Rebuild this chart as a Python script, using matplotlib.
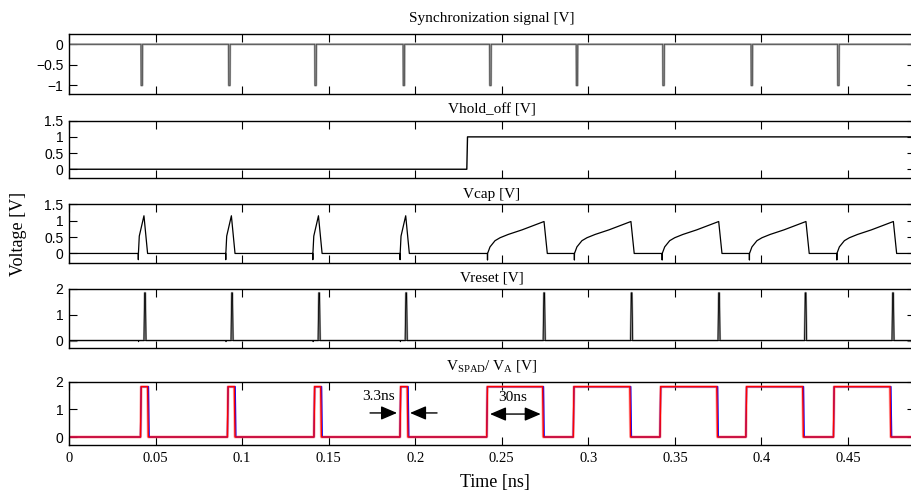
import numpy as np
import matplotlib
matplotlib.use('Agg')
import matplotlib.pyplot as plt
from matplotlib.ticker import FuncFormatter, MultipleLocator

plt.rcParams['font.family'] = 'Liberation Serif'
plt.rcParams['mathtext.fontset'] = 'custom'
plt.rcParams['mathtext.rm'] = 'Liberation Serif'
plt.rcParams['mathtext.it'] = 'Liberation Serif:italic'

########################### data ###########################
t_end = 0.4887

# synchronization dips to -1 V
sync_t = [0.0416, 0.0922, 0.1420, 0.1930, 0.2430, 0.2930, 0.3430, 0.3940, 0.4440]
sync_low = -1.0
sync_width = 0.0008

# hold-off step
hold_t = [0.0, 0.2298, 0.2302, t_end]
hold_v = [0.0, 0.0, 1.0, 1.0]

# Vcap pulse shapes (offset from start, value)
vcap_early_start = [0.0400, 0.0905, 0.1408, 0.1912]
vcap_early_dt = [0.0, 0.00005, 0.0001, 0.0006, 0.0033, 0.0054]
vcap_early_v = [0.0, -0.19, 0.0, 0.53, 1.15, 0.0]
vcap_late_start = [0.2417, 0.2919, 0.3426, 0.3930, 0.4435]
vcap_late_dt = [0.0, 0.00005, 0.0001, 0.0015, 0.0044, 0.0073, 0.0120, 0.0200, 0.0327, 0.0346]
vcap_late_v = [0.0, -0.2, 0.0, 0.20, 0.39, 0.48, 0.58, 0.72, 0.975, 0.0]

# Vreset spikes
reset_t = [0.0439, 0.0942, 0.1445, 0.1948, 0.2745, 0.3250, 0.3755, 0.4255, 0.4760]
reset_peak = 1.85
reset_blip_t = [0.0400, 0.0905, 0.1408, 0.1912]

# VSPAD / VA square pulses
spad_rise = [0.0413, 0.0915, 0.1415, 0.1912, 0.2413, 0.2913, 0.3414, 0.3910, 0.4416]
spad_fall = [0.0454, 0.0955, 0.1454, 0.1954, 0.2736, 0.3240, 0.3742, 0.4238, 0.4743]
spad_high = 1.82
va_delay = 0.0005

titles = ['Synchronization signal [V]', 'Vhold_off [V]', 'Vcap [V]', 'Vreset [V]',
          r'V$_{\mathrm{SPAD}}$/ V$_{\mathrm{A}}$ [V]']
ylims = [(-1.2, 0.25), (-0.28, 1.5), (-0.3, 1.5), (-0.3, 2.0), (-0.3, 2.0)]
yticks = [[-1, -0.5, 0], [0, 0.5, 1, 1.5], [0, 0.5, 1, 1.5], [0, 1, 2], [0, 1, 2]]
title_pads = [8.5, 5.5, 4.5, 5.5, 9.0]

########################### helpers ###########################
def pulse_train(starts, dts, vals, t0=0.0, t1=t_end, base=0.0):
    t = [t0]
    v = [base]
    for s in starts:
        t += [s + d for d in dts]
        v += list(vals)
    t.append(t1)
    v.append(base)
    return np.array(t), np.array(v)


def square(rises, falls, high, ramp=0.0004, t0=0.0, t1=t_end):
    t = [t0]
    v = [0.0]
    for r, f in zip(rises, falls):
        t += [r, r + ramp, f, f + ramp]
        v += [0.0, high, high, 0.0]
    t.append(t1)
    v.append(0.0)
    return np.array(t), np.array(v)


fmt = FuncFormatter(lambda x, p: ('%g' % x).replace('-', '\u2212'))

########################### figure ###########################
fig = plt.figure(figsize=(9.12, 4.91), dpi=100)
tops = [34, 120.7, 204.3, 289, 381.7]
bots = [93.7, 178.3, 263.3, 348.3, 445.3]
axes = []
for i in range(5):
    ax = fig.add_axes([69 / 912, 1 - bots[i] / 491, 846 / 912, (bots[i] - tops[i]) / 491])
    axes.append(ax)

# sync
ts, vs = pulse_train(sync_t, [0, 0.0001, sync_width, sync_width + 0.0001],
                     [0, sync_low, sync_low, 0])
axes[0].plot(ts, vs, color='#9a9a9a', lw=1.5)
axes[0].plot(ts, vs, color='#444444', lw=0.5)

# hold off
axes[1].plot(hold_t, hold_v, color='k', lw=1.0)

# vcap
te, ve = pulse_train(vcap_early_start, vcap_early_dt, vcap_early_v, t1=0.2417)
tl, vl = pulse_train(vcap_late_start, vcap_late_dt, vcap_late_v, t0=0.2417)
axes[2].plot(np.concatenate([te, tl]), np.concatenate([ve, vl]), color='k', lw=0.9)

# vreset
tr, vr = pulse_train(reset_t, [-0.0006, -0.0002, 0.0002, 0.0006], [0, reset_peak, reset_peak, 0])
axes[3].plot(tr, vr, color='#a0a0a0', lw=1.5)
axes[3].plot(tr, vr, color='k', lw=0.6)
tb, vb = pulse_train(reset_blip_t, [0, 0.0002, 0.0004], [0, -0.05, 0])
axes[3].plot(tb, vb, color='k', lw=0.6)

# vspad / va
tsp, vsp = square(spad_rise, spad_fall, spad_high)
tva, vva = square(spad_rise, [f + va_delay for f in spad_fall], spad_high)
axes[4].plot(tsp, vsp, color='#ff8080', lw=2.2, alpha=0.6)
axes[4].plot(tva, vva, color='#1010ff', lw=1.0)
axes[4].plot(tsp, vsp, color='#ff0000', lw=1.0)

head = '-|>,head_length=0.7,head_width=0.3'
axes[4].annotate('', xy=(0.1895, 0.87), xytext=(0.1739, 0.87),
                 arrowprops=dict(arrowstyle=head, color='k', lw=1.0, mutation_scale=14,
                                 shrinkA=0, shrinkB=0))
axes[4].annotate('', xy=(0.1970, 0.87), xytext=(0.2126, 0.87),
                 arrowprops=dict(arrowstyle=head, color='k', lw=1.0, mutation_scale=14,
                                 shrinkA=0, shrinkB=0))
axes[4].text(0.1785, 1.45, '3.3ns', ha='center', va='center', fontsize=11)
axes[4].annotate('', xy=(0.2432, 0.83), xytext=(0.2725, 0.83),
                 arrowprops=dict(arrowstyle='<|-|>,head_length=0.7,head_width=0.3', color='k',
                                 lw=1.0, mutation_scale=14, shrinkA=0, shrinkB=0))
axes[4].text(0.2565, 1.42, '30ns', ha='center', va='center', fontsize=11)

for i, ax in enumerate(axes):
    ax.set_xlim(0, t_end)
    ax.set_ylim(*ylims[i])
    ax.set_yticks(yticks[i])
    ax.yaxis.set_major_formatter(fmt)
    ax.xaxis.set_major_locator(MultipleLocator(0.05))
    ax.tick_params(direction='in', length=6, width=0.8, top=True, right=True, pad=4)
    for lab in ax.get_yticklabels():
        lab.set_fontfamily('Liberation Sans')
        lab.set_fontsize(10)
    for sp in ax.spines.values():
        sp.set_linewidth(1.0)
    ax.set_title(titles[i], fontsize=11, pad=title_pads[i])
    if i < 4:
        ax.tick_params(labelbottom=False)
    else:
        ax.tick_params(axis='x', labelsize=10.5, pad=5)
        ax.xaxis.set_major_formatter(FuncFormatter(lambda x, p: '%g' % round(x, 3)))

fig.text(18.5 / 912, 1 - 234 / 491, 'Voltage [V]', rotation=90, ha='center', va='center', fontsize=13)
fig.text(495 / 912, 1 - 483 / 491, 'Time [ns]', ha='center', va='center', fontsize=13)

fig.savefig('out.png', dpi=100)
